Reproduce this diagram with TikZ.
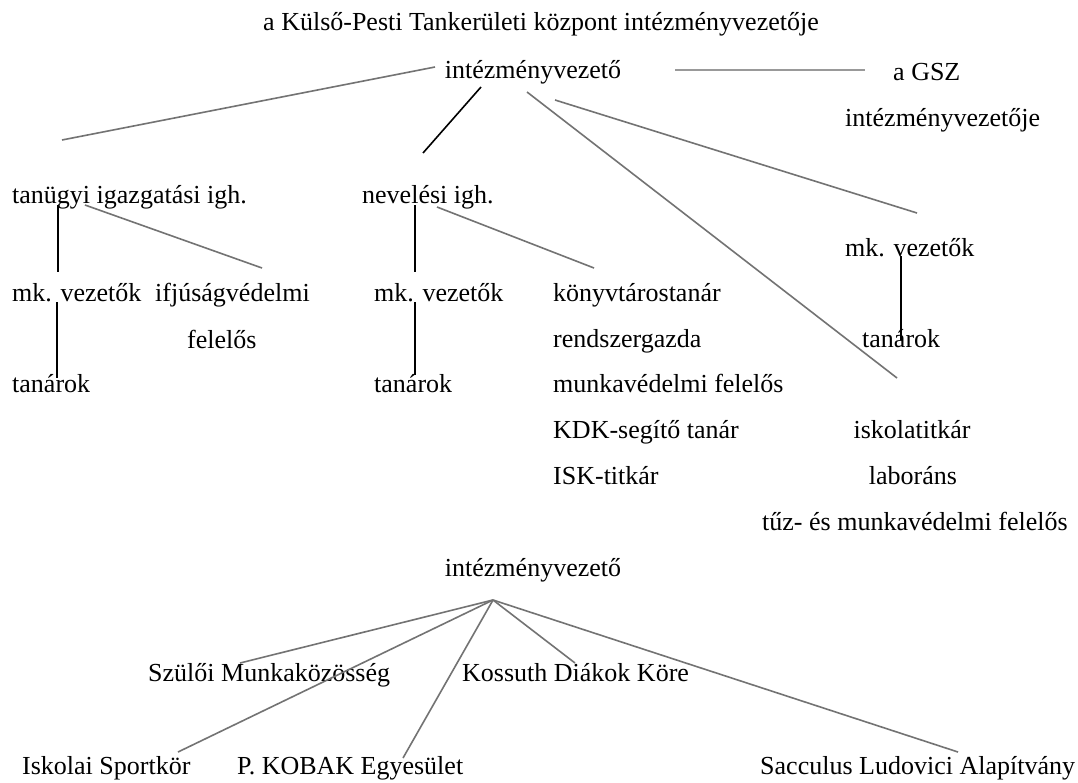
\documentclass[tikz,border=0pt]{standalone}
\usepackage{fontspec}
\setmainfont{Liberation Serif}
\begin{document}
\begin{tikzpicture}[x=1pt,y=-1pt,
  lbl/.style={inner sep=0pt, anchor=mid west, yshift=-6pt, font=\fontsize{26}{30}\selectfont},
  lblc/.style={inner sep=0pt, anchor=mid, yshift=-6pt, font=\fontsize{26}{30}\selectfont},
  gline/.style={draw=black!55, line width=1.6pt},
  bline/.style={draw=black, line width=1.6pt},
  tline/.style={draw=black, line width=1.1pt}]
\useasboundingbox[fill=white] (0,0) rectangle (1078,782);
% top part
\node[lblc] (title) at (541,22) {a Külső-Pesti Tankerületi központ intézményvezetője};
\node[lblc] (iv) at (533,70) {intézményvezető};
\node[lbl] (gsz) at (893,72) {a GSZ};
\node[lbl] (gszi) at (845,118) {intézményvezetője};
\node[lbl] (tig) at (12,195) {tanügyi igazgatási igh.};
\node[lbl] (mk1) at (12,293) {mk. vezetők};
\node[lbl] (ifj) at (155,293) {ifjúságvédelmi};
\node[lbl] (fel) at (187,340) {felelős};
\node[lbl] (tan1) at (12,384) {tanárok};
\node[lbl] (nev) at (362,195) {nevelési igh.};
\node[lbl] (mk2) at (374,293) {mk. vezetők};
\node[lbl] (tan2) at (374,384) {tanárok};
\node[lbl] (konyv) at (553,293) {könyvtárostanár};
\node[lbl] (rendsz) at (553,339) {rendszergazda};
\node[lbl] (munka) at (553,384) {munkavédelmi felelős};
\node[lbl] (kdk) at (553,430) {KDK-segítő tanár};
\node[lbl] (iskt2) at (553,476) {ISK-titkár};
\node[lbl] (mk3) at (845,248) {mk. vezetők};
\node[lbl] (tan3) at (862,339) {tanárok};
\node[lblc] (iskt) at (912,430) {iskolatitkár};
\node[lblc] (labor) at (913,476) {laboráns};
\node[lbl] (tuz) at (762,522) {tűz- és munkavédelmi felelős};
% bottom part
\node[lblc] (iv2) at (533,568) {intézményvezető};
\node[lbl] (szulo) at (148,673) {Szülői Munkaközösség};
\node[lbl] (koss) at (462,673) {Kossuth Diákok Köre};
\node[lbl] (sport) at (22,766) {Iskolai Sportkör};
\node[lbl] (kobak) at (237,766) {P. KOBAK Egyesület};
\node[lbl] (sacc) at (760,766) {Sacculus Ludovici Alapítvány};
% connector end points
\coordinate (a1) at (435,67);  \coordinate (a2) at (62,140);
\coordinate (b1) at (481,87);  \coordinate (b2) at (423,153);
\coordinate (c1) at (527,92);  \coordinate (c2) at (897,378);
\coordinate (d1) at (555,100); \coordinate (d2) at (917,213);
\coordinate (e1) at (675,70);  \coordinate (e2) at (865,70);
\coordinate (f1) at (58,205);  \coordinate (f2) at (58,272);
\coordinate (g1) at (85,205);  \coordinate (g2) at (262,268);
\coordinate (h1) at (57,302);  \coordinate (h2) at (57,378);
\coordinate (i1) at (415,205); \coordinate (i2) at (415,272);
\coordinate (j1) at (437,207); \coordinate (j2) at (594,268);
\coordinate (k1) at (415,302); \coordinate (k2) at (415,375);
\coordinate (l1) at (901,256); \coordinate (l2) at (901,340);
\coordinate (hub) at (493,600);
\coordinate (m1) at (240,663);
\coordinate (m2) at (178,752);
\coordinate (m3) at (403,758);
\coordinate (m4) at (575,663);
\coordinate (m5) at (958,752);
% connectors
\draw[gline] (a1) -- (a2);
\draw[bline] (b1) -- (b2);
\draw[gline] (c1) -- (c2);
\draw[gline] (d1) -- (d2);
\draw[gline, draw=black!40] (e1) -- (e2);
\draw[bline] (f1) -- (f2);
\draw[gline] (g1) -- (g2);
\draw[tline] (h1) -- (h2);
\draw[bline] (i1) -- (i2);
\draw[gline] (j1) -- (j2);
\draw[bline] (k1) -- (k2);
\draw[bline] (l1) -- (l2);
\foreach \e in {m1,m2,m3,m4,m5} \draw[gline] (hub) -- (\e);
\end{tikzpicture}
\end{document}
